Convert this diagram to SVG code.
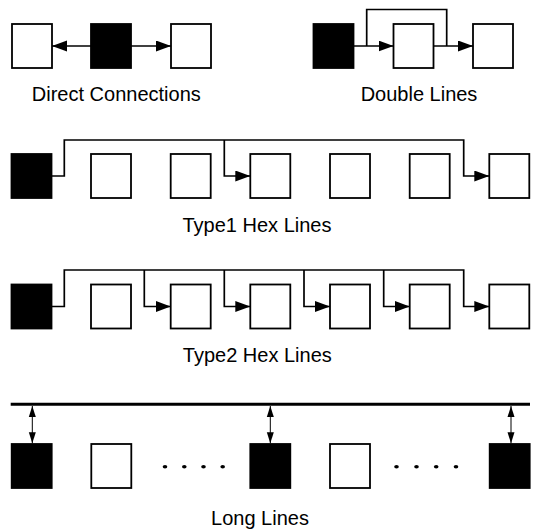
<svg xmlns="http://www.w3.org/2000/svg" width="537" height="529" viewBox="0 0 537 529">
  <style>
    .cell { fill: #ffffff; stroke: #000000; stroke-width: 1.8; }
    .src { fill: #000000; stroke: #000000; stroke-width: 1.8; }
    .wire { fill: none; stroke: #000000; stroke-width: 1.7; }
    .bus { fill: none; stroke: #000000; stroke-width: 3; }
    .tap { fill: none; stroke: #000000; stroke-width: 1; }
    .label { font-family: "Liberation Sans", Arial, Helvetica, sans-serif; font-size: 20px; fill: #000000; text-anchor: middle; }
    .dot { fill: #000000; }
  </style>
  <defs>
    <marker id="head" markerUnits="userSpaceOnUse" markerWidth="16" markerHeight="12" refX="15" refY="5.5" orient="auto">
      <path d="M0,0 L15,5.5 L0,11 Z" fill="#000000"/>
    </marker>
    <marker id="tapEnd" markerUnits="userSpaceOnUse" markerWidth="12" markerHeight="8" refX="11" refY="3.5" orient="auto">
      <path d="M0,0 L11,3.5 L0,7 Z" fill="#000000"/>
    </marker>
    <marker id="tapStart" markerUnits="userSpaceOnUse" markerWidth="12" markerHeight="8" refX="0" refY="3.5" orient="auto">
      <path d="M11,0 L0,3.5 L11,7 Z" fill="#000000"/>
    </marker>
  </defs>

  <!-- Direct connections -->
  <g id="direct">
    <rect id="d-left" class="cell" x="12" y="24" width="40" height="44"/>
    <rect id="d-src" class="src" x="91" y="24" width="40" height="44"/>
    <rect id="d-right" class="cell" x="171" y="24" width="40" height="44"/>
  </g>

  <!-- Double lines -->
  <g id="double">
    <rect id="dl-src" class="src" x="313.5" y="24" width="40" height="44"/>
    <rect id="dl-1" class="cell" x="393.5" y="24" width="40" height="44"/>
    <rect id="dl-2" class="cell" x="473" y="24" width="40" height="44"/>
  </g>

  <!-- Type1 hex lines -->
  <g id="hex1">
    <rect id="h1-0" class="src" x="11.5" y="154" width="40" height="44"/>
    <rect id="h1-1" class="cell" x="91" y="154" width="40" height="44"/>
    <rect id="h1-2" class="cell" x="170.7" y="154" width="40" height="44"/>
    <rect id="h1-3" class="cell" x="250.3" y="154" width="40" height="44"/>
    <rect id="h1-4" class="cell" x="330" y="154" width="40" height="44"/>
    <rect id="h1-5" class="cell" x="409.7" y="154" width="40" height="44"/>
    <rect id="h1-6" class="cell" x="489.3" y="154" width="40" height="44"/>
  </g>

  <!-- Type2 hex lines -->
  <g id="hex2">
    <rect id="h2-0" class="src" x="11.5" y="284.5" width="40" height="44"/>
    <rect id="h2-1" class="cell" x="91" y="284.5" width="40" height="44"/>
    <rect id="h2-2" class="cell" x="170.7" y="284.5" width="40" height="44"/>
    <rect id="h2-3" class="cell" x="250.3" y="284.5" width="40" height="44"/>
    <rect id="h2-4" class="cell" x="330" y="284.5" width="40" height="44"/>
    <rect id="h2-5" class="cell" x="409.7" y="284.5" width="40" height="44"/>
    <rect id="h2-6" class="cell" x="489.3" y="284.5" width="40" height="44"/>
  </g>

  <!-- Long lines -->
  <g id="long">
    <rect id="l-0" class="src" x="11.7" y="444" width="40" height="44"/>
    <rect id="l-1" class="cell" x="91.3" y="444" width="40" height="44"/>
    <rect id="l-2" class="src" x="250.3" y="444" width="40" height="44"/>
    <rect id="l-3" class="cell" x="330" y="444" width="40" height="44"/>
    <rect id="l-4" class="src" x="489.7" y="444" width="40" height="44"/>
    <g id="ellipsis">
      <ellipse class="dot" cx="165" cy="466.7" rx="2.3" ry="1.7"/>
      <ellipse class="dot" cx="184.3" cy="466.7" rx="2.3" ry="1.7"/>
      <ellipse class="dot" cx="203.5" cy="466.7" rx="2.3" ry="1.7"/>
      <ellipse class="dot" cx="222.7" cy="466.7" rx="2.3" ry="1.7"/>
      <ellipse class="dot" cx="396.5" cy="466.7" rx="2.3" ry="1.7"/>
      <ellipse class="dot" cx="416.5" cy="466.7" rx="2.3" ry="1.7"/>
      <ellipse class="dot" cx="436.2" cy="466.7" rx="2.3" ry="1.7"/>
      <ellipse class="dot" cx="456" cy="466.7" rx="2.3" ry="1.7"/>
    </g>
  </g>

  <!-- Connectors -->
  <g id="connectors">
    <!-- direct -->
    <path class="wire" d="M91,46 H52" marker-end="url(#head)"/>
    <path class="wire" d="M131,46 H171" marker-end="url(#head)"/>
    <!-- double -->
    <path class="wire" d="M353.5,46 H393.5" marker-end="url(#head)"/>
    <path class="wire" d="M366.7,46 V9.5 H446.7 V46"/>
    <path class="wire" d="M433.5,46 H473" marker-end="url(#head)"/>
    <!-- type1 hex -->
    <path class="wire" d="M51.5,176 H64.3 V140 H463.7 V176 H489.3" marker-end="url(#head)"/>
    <path class="wire" d="M224.3,140 V176 H250.3" marker-end="url(#head)"/>
    <!-- type2 hex -->
    <path class="wire" d="M51.5,306.5 H64.3 V270 H463.7 V306.5 H489.3" marker-end="url(#head)"/>
    <path class="wire" d="M144.3,270 V306.5 H170.7" marker-end="url(#head)"/>
    <path class="wire" d="M224.3,270 V306.5 H250.3" marker-end="url(#head)"/>
    <path class="wire" d="M304,270 V306.5 H330" marker-end="url(#head)"/>
    <path class="wire" d="M383.7,270 V306.5 H409.7" marker-end="url(#head)"/>
    <!-- long line bus and taps -->
    <path class="bus" d="M10.7,404.3 H530"/>
    <path class="tap" d="M32.3,406 V443.3" marker-start="url(#tapStart)" marker-end="url(#tapEnd)"/>
    <path class="tap" d="M270.3,406 V443.3" marker-start="url(#tapStart)" marker-end="url(#tapEnd)"/>
    <path class="tap" d="M511,406 V443.3" marker-start="url(#tapStart)" marker-end="url(#tapEnd)"/>
  </g>

  <!-- Captions -->
  <g id="captions">
    <text class="label" x="116.3" y="101">Direct Connections</text>
    <text class="label" x="419" y="101">Double Lines</text>
    <text class="label" x="257" y="232">Type1 Hex Lines</text>
    <text class="label" x="257.3" y="362">Type2 Hex Lines</text>
    <text class="label" x="260" y="525">Long Lines</text>
  </g>
</svg>
